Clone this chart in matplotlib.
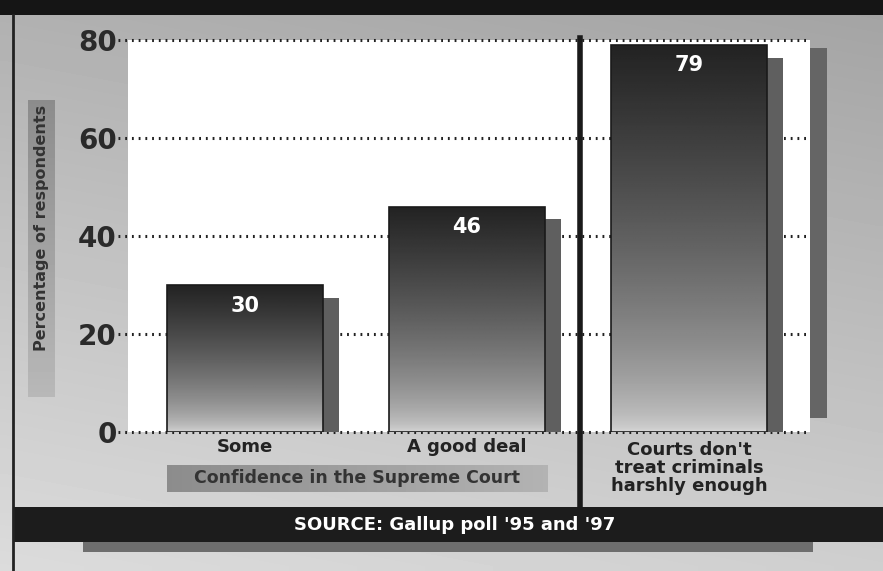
import numpy as np
import matplotlib
matplotlib.use("Agg")
import matplotlib.pyplot as plt
from matplotlib.patches import Rectangle

# data
categories = ["Some", "A good deal", "Courts don't\ntreat criminals\nharshly enough"]
values = [30, 46, 79]
value_labels = ["30", "46", "79"]
yticks = [0, 20, 40, 60, 80]
ylabel = "Percentage of respondents"
group_label = "Confidence in the Supreme Court"
source = "SOURCE: Gallup poll '95 and '97"

W, H = 883, 571
FONT = ["Liberation Sans Narrow", "DejaVu Sans"]
plt.rcParams["font.family"] = FONT

fig = plt.figure(figsize=(W / 100, H / 100), dpi=100)

# background / decoration layer in pixel coordinates
bg = fig.add_axes([0, 0, 1, 1], zorder=-10)
bg.set_xlim(0, W)
bg.set_ylim(H, 0)
bg.axis("off")

yy, xx = np.mgrid[0:1:60j, 0:1:90j]
shade = 0.69 + 0.17 * yy - 0.05 * xx
bg.imshow(shade, cmap="gray", vmin=0, vmax=1, extent=(0, W, H, 0),
          aspect="auto", interpolation="bilinear")

# gray strip behind the y label
strip = np.linspace(0.72, 0.55, 50)[:, None]
bg.imshow(strip, cmap="gray", vmin=0, vmax=1, extent=(28, 55, 100, 397),
          aspect="auto", interpolation="bilinear")

# panel shadow on the right
bg.add_patch(Rectangle((810, 48), 17, 370, color="#656565", lw=0))
# header band (title is cut off)
bg.add_patch(Rectangle((0, 0), W, 15, color="#151515", lw=0))
# left border
bg.plot([13, 13], [15, H], color="#222222", lw=2)

# box behind the group label
box = np.linspace(0.55, 0.70, 60)[None, :]
bg.imshow(box, cmap="gray", vmin=0, vmax=1, extent=(167, 548, 492, 465),
          aspect="auto", interpolation="bilinear")
bg.text(357, 478, group_label, ha="center", va="center", fontsize=12.5,
        fontweight="bold", color="#333333")

# source band and its shadow
bg.add_patch(Rectangle((13, 507), W - 13, 35, color="#1c1c1c", lw=0))
bg.add_patch(Rectangle((83, 542), 730, 10, color="#6e6e6e", lw=0))
bg.text(455, 525, source, ha="center", va="center", fontsize=13,
        fontweight="bold", color="white")

bg.text(42, 228, ylabel, rotation=90, ha="center", va="center",
        fontsize=11.5, fontweight="bold", color="#333333")

# main chart
ax = fig.add_axes([128 / W, (H - 432) / H, 682 / W, 392 / H])
ax.set_facecolor("white")
for s in ax.spines.values():
    s.set_visible(False)

x = np.arange(len(values))
width = 0.70
shadow_w = 0.075
shadow_drop = 2.6
xlim = (-0.527, 2.545)
ax.set_xlim(*xlim)
ax.set_ylim(0, 80)

for t in yticks:
    ax.axhline(t, xmin=-10 / 682, xmax=1, color="#222222", lw=2.2,
               ls=(0, (0.6, 1.6)), clip_on=False, zorder=1)

# bar shadows
ax.bar(x + width / 2 + shadow_w / 2, np.array(values) - shadow_drop, shadow_w,
       color="#5f5f5f", lw=0, zorder=2)

bars = ax.bar(x, values, width, color="none", edgecolor="#1a1a1a", lw=1.2,
              zorder=4)
for rect, v in zip(bars, values):
    t = np.linspace(0, 1, 200)[:, None]
    g = (215 - 180 * t ** 0.6) / 255.0
    im = ax.imshow(g, cmap="gray", vmin=0, vmax=1, origin="lower",
                   extent=(rect.get_x(), rect.get_x() + rect.get_width(), 0, v),
                   aspect="auto", interpolation="bilinear", zorder=3)
    im.set_clip_path(rect)

ax.set_xlim(*xlim)
ax.set_ylim(0, 80)

for xi, v, lab in zip(x, values, value_labels):
    ax.text(xi, v - 4.2, lab, ha="center", va="center", color="white",
            fontsize=15, fontweight="bold", zorder=5)

ax.text(x[0], -3.1, categories[0], ha="center", va="center", fontsize=13,
        fontweight="bold", color="#222222", clip_on=False)
ax.text(x[1], -3.1, categories[1], ha="center", va="center", fontsize=13,
        fontweight="bold", color="#222222", clip_on=False)
ax.text(x[2], -1.8, categories[2], ha="center", va="top", fontsize=13,
        fontweight="bold", color="#222222", linespacing=1.0, clip_on=False)

# divider between the two question groups
ax.axvline(1.51, ymin=-75 / 392, ymax=1.005, color="#1a1a1a", lw=4,
           clip_on=False, zorder=6)

ax.set_yticks(yticks)
ax.set_yticklabels([str(t) for t in yticks], fontsize=20, fontweight="bold",
                   color="#2a2a2a")
ax.tick_params(axis="y", length=0, pad=8)
ax.set_xticks([])

fig.savefig("out.png", dpi=100)
